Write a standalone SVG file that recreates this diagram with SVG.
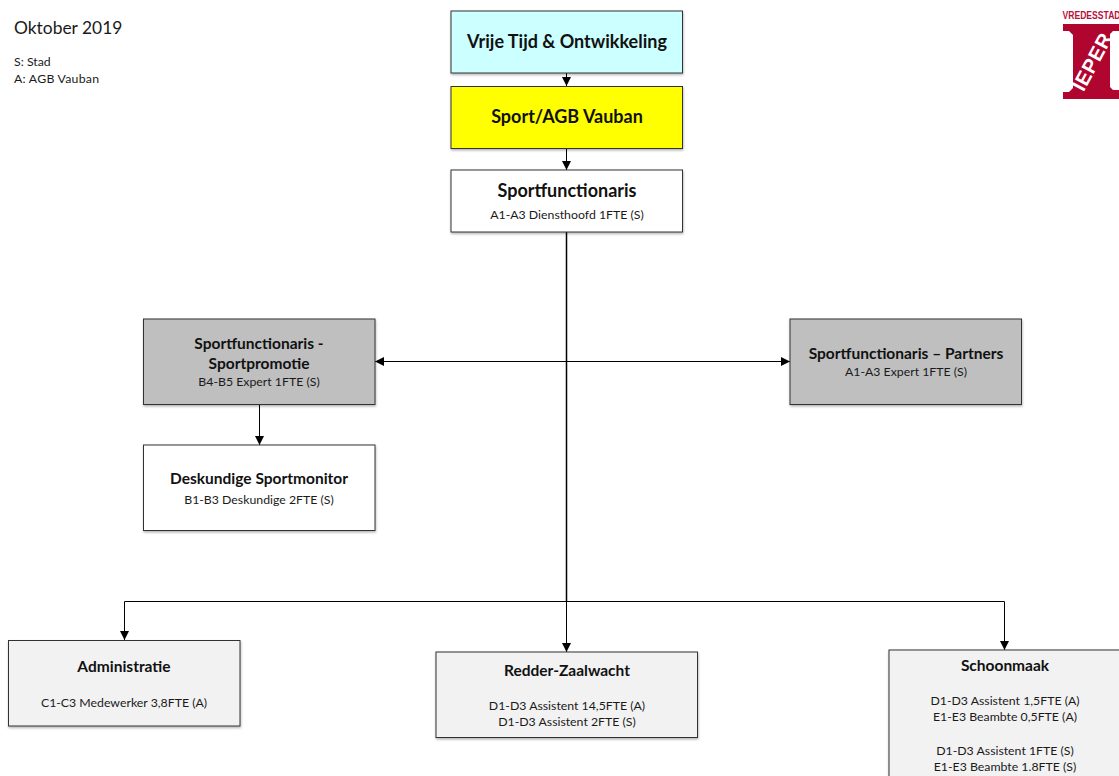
<svg xmlns="http://www.w3.org/2000/svg" width="1119" height="776" viewBox="0 0 1119 776">
<defs>
<marker id="arrow" markerUnits="userSpaceOnUse" markerWidth="10" markerHeight="10" refX="9" refY="5" orient="auto-start-reverse"><path d="M0,0.5 L9,5 L0,9.5 Z" fill="#000"/></marker>
<filter id="sh" x="-5%" y="-5%" width="110%" height="115%"><feDropShadow dx="0.5" dy="1.5" stdDeviation="1" flood-color="#000" flood-opacity="0.3"/></filter>
</defs>
<style>
text{font-family:Lato,Carlito,"Open Sans",sans-serif;fill:#1a1a1a;text-anchor:middle}
.box{stroke:#333;stroke-width:1;filter:url(#sh)}
.t{font-weight:700;font-size:15.500px;fill:#111}
.tl{font-weight:700;font-size:18px;fill:#111}
.s{font-size:12.300px}
.c{fill:none;stroke:#000;stroke-width:1}
.l{text-anchor:start}
.lg{font-weight:700;font-family:"Liberation Sans",sans-serif;text-anchor:start}
</style>
<rect width="1119" height="776" fill="#fff"/>
<g id="header">
<text class="l" x="14" y="34" font-size="17.400">Oktober 2019</text>
<text class="l s" x="14" y="66">S: Stad</text>
<text class="l s" x="14" y="83" textLength="85">A: AGB Vauban</text>
</g>
<g id="logo">
<text class="lg" transform="translate(1062.500,19) scale(0.86,1)" font-size="10" style="fill:#b5123e">VREDESSTAD</text>
<path fill="#b0052f" d="M1063,24 H1119 V31 H1113 L1110,34 V87 L1113,90 H1119 V99 H1063 V92 H1069 L1073,88 V35 L1069,31 H1063 Z"/>
<text class="lg" transform="translate(1083.600,92.600) rotate(-62)" font-size="20" style="fill:#fff" textLength="62">IEPER</text>
</g>
<g id="connectors">
<path class="c" marker-end="url(#arrow)" d="M566.500,73 V86"/>
<path class="c" marker-end="url(#arrow)" d="M566.500,149 V170"/>
<path class="c" style="stroke-width:1.500" d="M566.500,232 V601"/>
<path class="c" marker-end="url(#arrow)" d="M566.500,601 V652"/>
<path class="c" marker-start="url(#arrow)" marker-end="url(#arrow)" d="M375,361.500 H790"/>
<path class="c" marker-end="url(#arrow)" d="M259.500,405 V445"/>
<path class="c" marker-start="url(#arrow)" marker-end="url(#arrow)" d="M124.500,640 V601.500 H1004.500 V650"/>
</g>
<g id="n-vrije"><rect class="box" x="451" y="11" width="231.500" height="62" fill="#ccffff"/><text class="tl" x="567" y="48">Vrije Tijd &amp; Ontwikkeling</text></g>
<g id="n-sport"><rect class="box" x="451" y="86.500" width="231.500" height="62" fill="#ffff00"/><text class="tl" x="567" y="123">Sport/AGB Vauban</text></g>
<g id="n-functionaris"><rect class="box" x="451" y="170" width="231.500" height="62" fill="#fff"/><text class="tl" x="567" y="197">Sportfunctionaris</text><text class="s" x="567" y="219">A1-A3 Diensthoofd 1FTE (S)</text></g>
<g id="n-promotie"><rect class="box" x="143.500" y="319" width="231.500" height="85.500" fill="#bfbfbf"/><text class="t" x="259" y="349">Sportfunctionaris -</text><text class="t" x="259" y="369">Sportpromotie</text><text class="s" x="259" y="386">B4-B5 Expert 1FTE (S)</text></g>
<g id="n-partners"><rect class="box" x="790" y="319" width="231.500" height="85.500" fill="#bfbfbf"/><text class="t" x="906" y="359">Sportfunctionaris – Partners</text><text class="s" x="906" y="376">A1-A3 Expert 1FTE (S)</text></g>
<g id="n-monitor"><rect class="box" x="143.500" y="445" width="231.500" height="85.500" fill="#fff"/><text class="t" x="259" y="484">Deskundige Sportmonitor</text><text class="s" x="259" y="504">B1-B3 Deskundige 2FTE (S)</text></g>
<g id="n-admin"><rect class="box" x="8.500" y="640.500" width="231.500" height="85.500" fill="#f2f2f2"/><text class="t" x="124" y="672">Administratie</text><text class="s" x="124" y="707">C1-C3 Medewerker 3,8FTE (A)</text></g>
<g id="n-redder"><rect class="box" x="436" y="652" width="261.500" height="85.500" fill="#f2f2f2"/><text class="t" x="567" y="676">Redder-Zaalwacht</text><text class="s" x="567" y="710">D1-D3 Assistent 14,5FTE (A)</text><text class="s" x="567" y="726">D1-D3 Assistent 2FTE (S)</text></g>
<g id="n-schoonmaak"><rect class="box" x="889" y="650" width="231.500" height="140" fill="#f2f2f2"/><text class="t" x="1005" y="671">Schoonmaak</text><text class="s" x="1005" y="705">D1-D3 Assistent 1,5FTE (A)</text><text class="s" x="1005" y="721">E1-E3 Beambte 0,5FTE (A)</text><text class="s" x="1005" y="755">D1-D3 Assistent 1FTE (S)</text><text class="s" x="1005" y="771">E1-E3 Beambte 1.8FTE (S)</text></g>
</svg>
